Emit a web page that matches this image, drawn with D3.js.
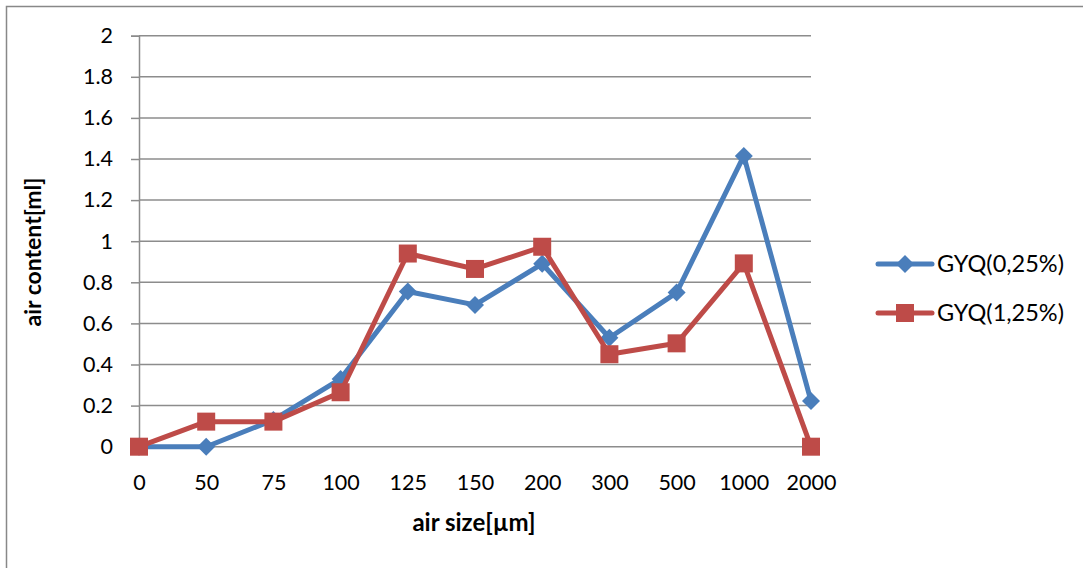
<!DOCTYPE html>
<html>
<head>
<meta charset="utf-8">
<script src="https://cdn.jsdelivr.net/npm/d3@7"></script>
<style>
  html, body { margin: 0; padding: 0; background: #fff; }
  svg { display: block; }
  text { font-family: Lato, "Open Sans", "Liberation Sans", sans-serif; fill: #000; }
</style>
</head>
<body>
<svg id="chart" width="1083" height="568"></svg>
<script>
// Bubble size classes (µm) on the category axis
const categories = ["0", "50", "75", "100", "125", "150", "200", "300", "500", "1000", "2000"];
// Air content (ml) per size class
const gyq025 = [0, 0, 0.13, 0.33, 0.755, 0.69, 0.89, 0.53, 0.75, 1.415, 0.222];
const gyq125 = [0, 0.122, 0.122, 0.265, 0.94, 0.865, 0.973, 0.45, 0.503, 0.892, 0];
const yTicks = [0, 0.2, 0.4, 0.6, 0.8, 1, 1.2, 1.4, 1.6, 1.8, 2];
const seriesNames = ["GYQ(0,25%)", "GYQ(1,25%)"];

const series = [
  { name: seriesNames[0], values: gyq025, color: "#4A7EBB", marker: "diamond" },
  { name: seriesNames[1], values: gyq125, color: "#BE4B48", marker: "square" }
];

const svg = d3.select("#chart");

// Outer chart frame (only top and left edges fall inside the view)
svg.append("rect")
  .attr("x", 6.5).attr("y", 6.5)
  .attr("width", 1200).attr("height", 700)
  .attr("fill", "none").attr("stroke", "#888").attr("stroke-width", 1.5);

const plot = { left: 139, right: 811, top: 35.7, bottom: 446.7 };

const x = d3.scalePoint().domain(categories).range([plot.left, plot.right]);
const y = d3.scaleLinear().domain([0, 2]).range([plot.bottom, plot.top]);

// Horizontal gridlines
svg.append("g")
  .selectAll("line")
  .data(yTicks)
  .join("line")
  .attr("x1", plot.left).attr("x2", plot.right)
  .attr("y1", d => y(d)).attr("y2", d => y(d))
  .attr("stroke", "#8c8c8c").attr("stroke-width", 1.5);

// Y axis with outward ticks
const yAxis = svg.append("g")
  .attr("transform", `translate(${plot.left},0)`)
  .call(d3.axisLeft(y).tickValues(yTicks).tickSize(8).tickPadding(18).tickFormat(d3.format("")));
yAxis.select(".domain").attr("stroke", "#8c8c8c").attr("stroke-width", 1.5);
yAxis.selectAll(".tick line").attr("stroke", "#8c8c8c").attr("stroke-width", 1.5);
yAxis.selectAll(".tick text").style("font-size", "21.5px").attr("fill", "#000");

// X axis labels (no axis line or ticks beyond the zero gridline)
const xAxis = svg.append("g")
  .attr("transform", `translate(0,${plot.bottom})`)
  .call(d3.axisBottom(x).tickSize(0).tickPadding(28));
xAxis.select(".domain").remove();
xAxis.selectAll(".tick text").style("font-size", "21.5px").attr("fill", "#000");

// Axis titles
svg.append("text")
  .attr("x", 474).attr("y", 531)
  .attr("text-anchor", "middle")
  .style("font-size", "24px").style("font-weight", "bold")
  .text("air size[µm]");

svg.append("text")
  .attr("transform", "translate(41,252) rotate(-90)")
  .attr("text-anchor", "middle")
  .style("font-size", "23px").style("font-weight", "bold")
  .text("air content[ml]");

const line = d3.line().x((d, i) => x(categories[i])).y(d => y(d));

function drawMarker(g, type, color) {
  if (type === "diamond") {
    g.append("path")
      .attr("d", "M0,-9L9,0L0,9L-9,0Z")
      .attr("fill", color);
  } else {
    g.append("rect")
      .attr("x", -9).attr("y", -9).attr("width", 18).attr("height", 18)
      .attr("fill", color);
  }
}

series.forEach(s => {
  svg.append("path")
    .datum(s.values)
    .attr("d", line)
    .attr("fill", "none")
    .attr("stroke", s.color)
    .attr("stroke-width", 5)
    .attr("stroke-linejoin", "round");
  svg.append("g")
    .selectAll("g")
    .data(s.values)
    .join("g")
    .attr("transform", (d, i) => `translate(${x(categories[i])},${y(d)})`)
    .each(function () { drawMarker(d3.select(this), s.marker, s.color); });
});

// Legend
const legend = svg.append("g");
series.forEach((s, i) => {
  const ly = 264 + i * 49;
  const g = legend.append("g").attr("transform", `translate(0,${ly})`);
  g.append("line")
    .attr("x1", 878).attr("x2", 932).attr("y1", 0).attr("y2", 0)
    .attr("stroke", s.color).attr("stroke-width", 5).attr("stroke-linecap", "round");
  const m = g.append("g").attr("transform", "translate(905,0)");
  drawMarker(m, s.marker, s.color);
  g.append("text")
    .attr("x", 937).attr("y", 0).attr("dy", "0.36em")
    .style("font-size", "23.5px")
    .text(s.name);
});
</script>
</body>
</html>
